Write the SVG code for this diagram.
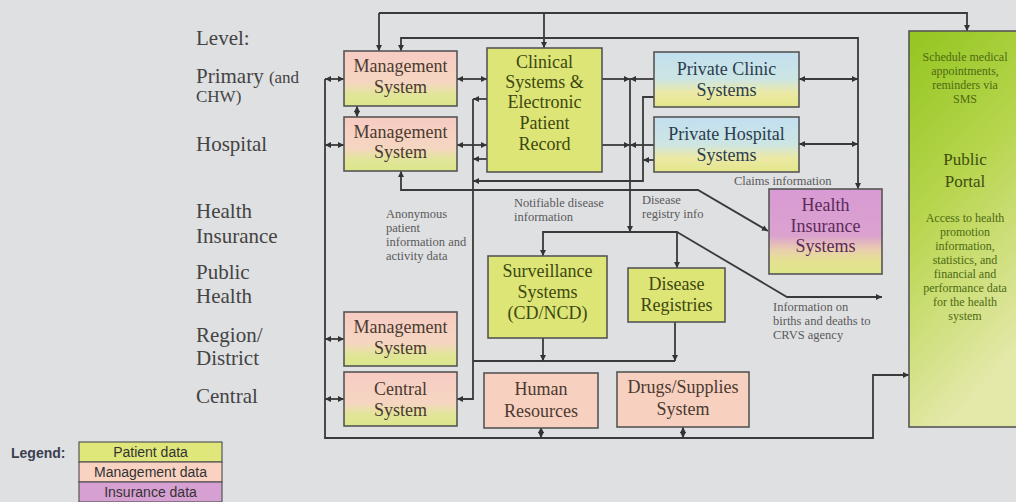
<svg xmlns="http://www.w3.org/2000/svg" width="1016" height="502" viewBox="0 0 1016 502">
<style>
.bg{fill:#dfe0e2}
.box{stroke:#555;stroke-width:1.6}
.lvl{font-family:"Liberation Serif",serif;font-size:21px;fill:#444}
.lvs{font-family:"Liberation Serif",serif;font-size:17px;fill:#444}
.bt{font-family:"Liberation Serif",serif;font-size:18px;text-anchor:middle}
.mg{fill:#4a3a30}
.cl{fill:#3e4812}
.pv{fill:#2a3d50}
.in{fill:#5a2a5a}
.ann{font-family:"Liberation Serif",serif;font-size:12.5px;fill:#5a5a5a}
.ps{font-family:"Liberation Serif",serif;font-size:12px;fill:#4e6a12;text-anchor:middle}
.pt{font-family:"Liberation Serif",serif;font-size:17px;fill:#3e4e10;text-anchor:middle}
.lg{font-family:"Liberation Sans",sans-serif;font-size:14px;fill:#333;text-anchor:middle}
.ln{fill:none;stroke:#3a3a3a;stroke-width:1.8}
</style>
<defs>
<marker id="a" viewBox="0 0 8 8" refX="8" refY="4" markerWidth="7" markerHeight="6" markerUnits="userSpaceOnUse" orient="auto-start-reverse"><path d="M0,0 L8,4 L0,8 z" fill="#333"/></marker>
<linearGradient id="gM" x1="0" y1="0" x2="0" y2="1"><stop offset="0" stop-color="#f7cbc3"/><stop offset="0.58" stop-color="#f5d6c1"/><stop offset="0.78" stop-color="#e2e59a"/><stop offset="1" stop-color="#dbe689"/></linearGradient>
<linearGradient id="gP" x1="0" y1="0" x2="0" y2="1"><stop offset="0" stop-color="#c2dff0"/><stop offset="0.5" stop-color="#cde5e2"/><stop offset="0.74" stop-color="#ece9a6"/><stop offset="1" stop-color="#e3e68a"/></linearGradient>
<linearGradient id="gI" x1="0" y1="0" x2="0" y2="1"><stop offset="0" stop-color="#d89ad3"/><stop offset="0.55" stop-color="#dba2cf"/><stop offset="0.72" stop-color="#ead0ac"/><stop offset="0.85" stop-color="#e4e291"/><stop offset="1" stop-color="#dde68a"/></linearGradient>
<linearGradient id="gPo" x1="0" y1="0" x2="0.3" y2="1"><stop offset="0" stop-color="#93c520"/><stop offset="0.45" stop-color="#b6d54c"/><stop offset="1" stop-color="#e4e8a8"/></linearGradient>
</defs>
<rect class="bg" x="0" y="0" width="1016" height="502"/>

<g id="levels">
<text class="lvl" x="196" y="45">Level:</text>
<text class="lvl" x="196" y="83">Primary <tspan class="lvs" style="font-size:17px">(and</tspan></text>
<text class="lvs" x="196" y="102">CHW)</text>
<text class="lvl" x="196" y="151">Hospital</text>
<text class="lvl" x="196" y="218">Health</text>
<text class="lvl" x="196" y="243">Insurance</text>
<text class="lvl" x="196" y="279">Public</text>
<text class="lvl" x="196" y="303">Health</text>
<text class="lvl" x="196" y="342">Region/</text>
<text class="lvl" x="196" y="365">District</text>
<text class="lvl" x="196" y="403">Central</text>
</g>

<g id="connectors">
<polyline class="ln" points="379,13 967,13 967,31" marker-end="url(#a)"/>
<polyline class="ln" points="379,13 379,51" marker-end="url(#a)"/>
<line class="ln" x1="544" y1="13" x2="544" y2="48" marker-end="url(#a)"/>
<polyline class="ln" points="401,51 401,38 858,38 858,189" marker-start="url(#a)" marker-end="url(#a)"/>
<line class="ln" x1="457" y1="79" x2="487" y2="79" marker-start="url(#a)" marker-end="url(#a)"/>
<line class="ln" x1="457" y1="145" x2="487" y2="145" marker-start="url(#a)" marker-end="url(#a)"/>
<line class="ln" x1="357" y1="106" x2="357" y2="117" marker-start="url(#a)" marker-end="url(#a)"/>
<polyline class="ln" points="325,79 325,438 873,438 873,375 909,375" marker-end="url(#a)"/>
<line class="ln" x1="325" y1="79" x2="344" y2="79" marker-start="url(#a)" marker-end="url(#a)"/>
<line class="ln" x1="325" y1="145" x2="344" y2="145" marker-start="url(#a)" marker-end="url(#a)"/>
<line class="ln" x1="325" y1="339" x2="344" y2="339" marker-start="url(#a)" marker-end="url(#a)"/>
<line class="ln" x1="325" y1="399" x2="344" y2="399" marker-start="url(#a)" marker-end="url(#a)"/>
<line class="ln" x1="541" y1="427" x2="541" y2="438" marker-start="url(#a)" marker-end="url(#a)"/>
<line class="ln" x1="683" y1="427" x2="683" y2="438" marker-start="url(#a)" marker-end="url(#a)"/>
<polyline class="ln" points="473,99 473,399 457,399" marker-end="url(#a)"/>
<line class="ln" x1="487" y1="99" x2="473" y2="99" marker-end="url(#a)"/>
<line class="ln" x1="487" y1="159" x2="473" y2="159" marker-end="url(#a)"/>
<polyline class="ln" points="654,97 643,97 643,181 473,181" marker-end="url(#a)"/>
<line class="ln" x1="654" y1="160" x2="643" y2="160" marker-end="url(#a)"/>
<line class="ln" x1="473" y1="361" x2="675" y2="361"/>
<line class="ln" x1="543" y1="338" x2="543" y2="361" marker-end="url(#a)"/>
<line class="ln" x1="675" y1="322" x2="675" y2="361" marker-end="url(#a)"/>
<line class="ln" x1="601" y1="79" x2="630" y2="79" marker-end="url(#a)"/>
<line class="ln" x1="654" y1="79" x2="630" y2="79" marker-end="url(#a)"/>
<line class="ln" x1="601" y1="145" x2="630" y2="145" marker-end="url(#a)"/>
<line class="ln" x1="654" y1="145" x2="630" y2="145" marker-end="url(#a)"/>
<line class="ln" x1="630" y1="79" x2="630" y2="232" marker-end="url(#a)"/>
<line class="ln" x1="799" y1="79" x2="858" y2="79" marker-start="url(#a)" marker-end="url(#a)"/>
<line class="ln" x1="799" y1="144" x2="858" y2="144" marker-start="url(#a)" marker-end="url(#a)"/>
<polyline class="ln" points="401,171 401,190 698,190 768,231" marker-start="url(#a)" marker-end="url(#a)"/>
<polyline class="ln" points="543,256 543,232 677,232 677,268" marker-start="url(#a)" marker-end="url(#a)"/>
<polyline class="ln" points="677,232 787,297 882,297" marker-end="url(#a)"/>
</g>

<g id="mgmt-primary">
<rect class="box" x="344" y="51" width="113" height="55" fill="url(#gM)"/>
<text class="bt mg" x="400.5" y="72">Management</text>
<text class="bt mg" x="400.5" y="93">System</text>
</g>
<g id="mgmt-hospital">
<rect class="box" x="344" y="117" width="113" height="54" fill="url(#gM)"/>
<text class="bt mg" x="400.5" y="138">Management</text>
<text class="bt mg" x="400.5" y="158">System</text>
</g>
<g id="clinical">
<rect class="box" x="487" y="48" width="115" height="124" fill="#dce575"/>
<text class="bt cl" x="544.5" y="68">Clinical</text>
<text class="bt cl" x="544.5" y="88">Systems &amp;</text>
<text class="bt cl" x="544.5" y="108">Electronic</text>
<text class="bt cl" x="544.5" y="129">Patient</text>
<text class="bt cl" x="544.5" y="150">Record</text>
</g>
<g id="private-clinic">
<rect class="box" x="654" y="52" width="145" height="55" fill="url(#gP)"/>
<text class="bt pv" x="726.5" y="75">Private Clinic</text>
<text class="bt pv" x="726.5" y="96">Systems</text>
</g>
<g id="private-hospital">
<rect class="box" x="654" y="117" width="145" height="55" fill="url(#gP)"/>
<text class="bt pv" x="726.5" y="140">Private Hospital</text>
<text class="bt pv" x="726.5" y="161">Systems</text>
</g>
<g id="health-insurance">
<rect class="box" x="769" y="189" width="113" height="85" fill="url(#gI)"/>
<text class="bt in" x="825.5" y="211">Health</text>
<text class="bt in" x="825.5" y="232">Insurance</text>
<text class="bt in" x="825.5" y="252">Systems</text>
</g>
<g id="surveillance">
<rect class="box" x="488" y="256" width="119" height="82" fill="#dce575"/>
<text class="bt cl" x="547.5" y="277">Surveillance</text>
<text class="bt cl" x="547.5" y="298">Systems</text>
<text class="bt cl" x="547.5" y="319">(CD/NCD)</text>
</g>
<g id="disease-registries">
<rect class="box" x="628" y="268" width="97" height="54" fill="#dce575"/>
<text class="bt cl" x="676.5" y="290">Disease</text>
<text class="bt cl" x="676.5" y="311">Registries</text>
</g>
<g id="mgmt-region">
<rect class="box" x="344" y="312" width="113" height="54" fill="url(#gM)"/>
<text class="bt mg" x="400.5" y="333">Management</text>
<text class="bt mg" x="400.5" y="354">System</text>
</g>
<g id="central-system">
<rect class="box" x="344" y="372" width="113" height="54" fill="url(#gM)"/>
<text class="bt mg" x="400.5" y="395">Central</text>
<text class="bt mg" x="400.5" y="416">System</text>
</g>
<g id="human-resources">
<rect class="box" x="484" y="373" width="114" height="55" fill="#f8d0c0"/>
<text class="bt mg" x="541" y="395">Human</text>
<text class="bt mg" x="541" y="417">Resources</text>
</g>
<g id="drugs-supplies">
<rect class="box" x="617" y="372" width="132" height="55" fill="#f8d0c0"/>
<text class="bt mg" x="683" y="393">Drugs/Supplies</text>
<text class="bt mg" x="683" y="415">System</text>
</g>
<g id="public-portal">
<rect class="box" x="909" y="31" width="112" height="396" fill="url(#gPo)"/>
<text class="ps" x="965" y="61">Schedule medical</text>
<text class="ps" x="965" y="75">appointments,</text>
<text class="ps" x="965" y="89">reminders via</text>
<text class="ps" x="965" y="103">SMS</text>
<text class="pt" x="965" y="165">Public</text>
<text class="pt" x="965" y="187">Portal</text>
<text class="ps" x="965" y="222">Access to health</text>
<text class="ps" x="965" y="236">promotion</text>
<text class="ps" x="965" y="250">information,</text>
<text class="ps" x="965" y="264">statistics, and</text>
<text class="ps" x="965" y="278">financial and</text>
<text class="ps" x="965" y="292">performance data</text>
<text class="ps" x="965" y="306">for the health</text>
<text class="ps" x="965" y="320">system</text>
</g>

<g id="labels">
<text class="ann" x="386" y="218">Anonymous</text>
<text class="ann" x="386" y="232">patient</text>
<text class="ann" x="386" y="246">information  and</text>
<text class="ann" x="386" y="260">activity data</text>
<text class="ann" x="514" y="207">Notifiable disease</text>
<text class="ann" x="514" y="221">information</text>
<text class="ann" x="642" y="204">Disease</text>
<text class="ann" x="642" y="218">registry info</text>
<text class="ann" x="734" y="185">Claims information</text>
<text class="ann" x="773" y="311">Information  on</text>
<text class="ann" x="773" y="325">births and deaths to</text>
<text class="ann" x="773" y="339">CRVS agency</text>
</g>

<g id="legend">
<text x="11" y="458" style="font-family:'Liberation Sans',sans-serif;font-size:14px;font-weight:bold;fill:#3a4050">Legend:</text>
<rect x="79" y="442" width="143" height="20" fill="#dfe77a" stroke="#555" stroke-width="1.2"/>
<rect x="79" y="462" width="143" height="20" fill="#f9d2c1" stroke="#555" stroke-width="1.2"/>
<rect x="79" y="482" width="143" height="20" fill="#d6a0d2" stroke="#555" stroke-width="1.2"/>
<text class="lg" x="150.5" y="457">Patient data</text>
<text class="lg" x="150.5" y="477">Management data</text>
<text class="lg" x="150.5" y="497">Insurance data</text>
</g>
</svg>
